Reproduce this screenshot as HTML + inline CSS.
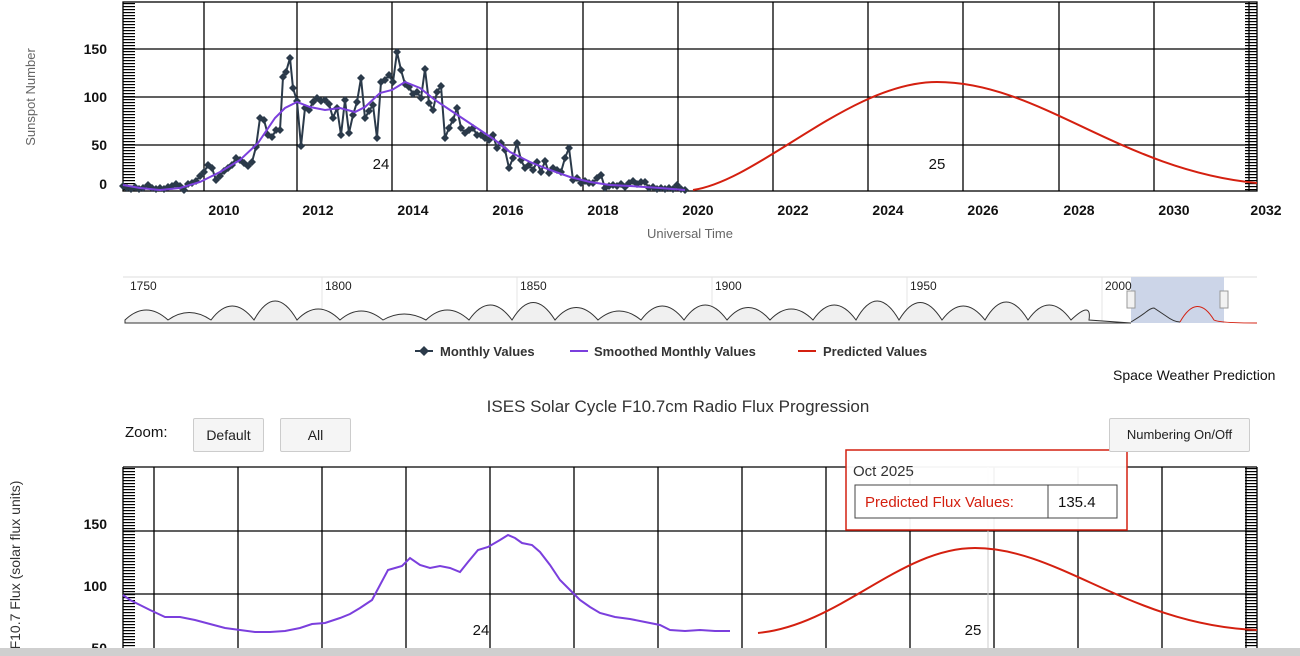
<!DOCTYPE html>
<html><head><meta charset="utf-8"><style>
body{margin:0;width:1300px;height:656px;overflow:hidden;background:#fff;font-family:"Liberation Sans",sans-serif;position:relative}
.btn{position:absolute;background:#f5f5f5;border:1px solid #ccc;border-radius:2px;font-size:14px;color:#222;text-align:center;line-height:32px}
</style></head><body>
<svg width="1300" height="656" style="position:absolute;left:0;top:0" font-family="Liberation Sans, sans-serif">
<defs>
<pattern id="mt" width="12" height="3" patternUnits="userSpaceOnUse"><rect width="12" height="1.2" fill="#000"/></pattern>
<marker id="dm" markerWidth="8" markerHeight="8" refX="4" refY="4" markerUnits="userSpaceOnUse"><path d="M4,0L8,4L4,8L0,4Z" fill="#2b3a4a"/></marker>
</defs>
<rect x="123" y="2" width="12" height="189" fill="url(#mt)"/>
<rect x="1245" y="2" width="12" height="189" fill="url(#mt)"/>
<g stroke="#000" stroke-width="1.3" fill="none">
<rect x="123" y="2" width="1134" height="189"/>
<line x1="123" y1="49" x2="1257" y2="49"/><line x1="123" y1="97" x2="1257" y2="97"/><line x1="123" y1="145" x2="1257" y2="145"/>
<line x1="204" y1="2" x2="204" y2="191"/><line x1="297" y1="2" x2="297" y2="191"/><line x1="392" y1="2" x2="392" y2="191"/><line x1="487" y1="2" x2="487" y2="191"/><line x1="583" y1="2" x2="583" y2="191"/><line x1="678" y1="2" x2="678" y2="191"/><line x1="773" y1="2" x2="773" y2="191"/><line x1="868" y1="2" x2="868" y2="191"/><line x1="963" y1="2" x2="963" y2="191"/><line x1="1059" y1="2" x2="1059" y2="191"/><line x1="1154" y1="2" x2="1154" y2="191"/><line x1="1249" y1="2" x2="1249" y2="191"/>
</g>
<g font-size="14" font-weight="bold" text-anchor="end" fill="#111">
<text x="107" y="54">150</text><text x="107" y="102">100</text><text x="107" y="150">50</text><text x="107" y="189">0</text></g>
<g font-size="14" font-weight="bold" text-anchor="middle" fill="#111">
<text x="224" y="215">2010</text><text x="318" y="215">2012</text><text x="413" y="215">2014</text><text x="508" y="215">2016</text><text x="603" y="215">2018</text><text x="698" y="215">2020</text><text x="793" y="215">2022</text><text x="888" y="215">2024</text><text x="983" y="215">2026</text><text x="1079" y="215">2028</text><text x="1174" y="215">2030</text><text x="1266" y="215">2032</text></g>
<text x="690" y="238" font-size="13" fill="#666" text-anchor="middle">Universal Time</text>
<text transform="translate(35,97) rotate(-90)" font-size="13" fill="#666" text-anchor="middle">Sunspot Number</text>
<text x="381" y="169" font-size="15" text-anchor="middle" fill="#111">24</text>
<text x="937" y="169" font-size="15" text-anchor="middle" fill="#111">25</text>
<polyline fill="none" stroke="#2b3a4a" stroke-width="2" marker-start="url(#dm)" marker-mid="url(#dm)" marker-end="url(#dm)" points="123,186 127,188 131,189 135,187 139,189 143,188 148,185 152,188 156,189 160,188 164,189 168,187 172,186 176,184 180,186 184,190 188,184 192,183 196,181 200,176 204,172 208,165 212,168 216,180 220,176 224,171 228,168 232,165 236,158 240,160 244,163 248,166 252,162 256,147 260,118 264,120 268,135 272,137 276,130 280,130 283,77 286,72 290,58 293,88 297,101 301,146 305,108 309,110 313,102 317,98 321,101 325,100 329,104 333,118 337,108 341,135 345,100 349,133 353,115 357,102 361,78 365,118 369,111 373,105 377,138 381,82 385,80 389,75 393,82 397,52 401,70 405,84 409,87 413,94 417,92 421,98 425,69 429,103 433,110 437,92 441,86 445,138 449,128 453,120 457,108 461,128 465,133 469,130 473,128 477,135 481,135 485,138 489,140 493,135 497,148 501,143 505,150 509,168 513,158 517,143 521,160 525,168 529,165 533,170 537,162 541,172 545,161 549,173 553,168 557,170 561,172 565,158 569,148 573,180 577,178 581,183 585,181 589,183 593,183 597,178 601,175 605,188 609,186 613,185 617,186 621,184 625,187 629,183 633,181 637,184 641,182 645,182 649,188 653,187 657,189 661,188 665,189 669,188 673,189 677,185 681,189 685,190"/>
<polyline fill="none" stroke="#7b3fdd" stroke-width="2" points="123,185 140,188 160,190 180,188 200,182 220,172 240,160 258,143 275,118 285,108 297,102 310,107 325,110 340,108 355,112 365,107 380,93 392,90 405,82 420,88 435,100 450,110 465,120 480,130 495,140 510,152 530,162 550,170 570,177 590,182 610,185 630,186 660,188 685,190"/>
<path d="M693,190 C760,180 850,82 937,82 C1040,82 1120,170 1257,183" fill="none" stroke="#d42010" stroke-width="2"/>
<rect x="123" y="277" width="1134" height="46" fill="#fff"/>
<line x1="123" y1="277" x2="1257" y2="277" stroke="#ddd"/>
<g stroke="#e4e4e4"><line x1="322" y1="277" x2="322" y2="323"/><line x1="517" y1="277" x2="517" y2="323"/><line x1="712" y1="277" x2="712" y2="323"/><line x1="907" y1="277" x2="907" y2="323"/><line x1="1102" y1="277" x2="1102" y2="323"/></g>
<path d="M125,320 q21,-20 43,0 q21,-15 43,0 q21,-28 43,0 q21,-38 43,0 q21,-22 43,0 q21,-18 43,0 q21,-12 43,0 q21,-20 43,0 q21,-30 43,0 q21,-35 43,0 q21,-25 43,0 q21,-18 43,0 q21,-28 43,0 q21,-30 43,0 q21,-25 43,0 q21,-22 43,0 q21,-30 43,0 q21,-38 43,0 q21,-35 43,0 q21,-28 43,0 q21,-36 43,0 q21,-30 43,0 q21,-20 18,0 L1131,323 L125,323Z" fill="#f0f0f0" stroke="#333" stroke-width="1"/>
<rect x="1131" y="277" width="93" height="46" fill="#ccd5e8"/>
<path d="M1131,322 q10,-6 15,-10 q5,-4 8,-4 q6,4 12,8 q8,6 14,6" fill="none" stroke="#333"/>
<path d="M1180,322 q17,-30 34,-2 q5,3 43,3" fill="none" stroke="#d42010"/>
<g font-size="12" fill="#222"><text x="130" y="290">1750</text><text x="325" y="290">1800</text><text x="520" y="290">1850</text><text x="715" y="290">1900</text><text x="910" y="290">1950</text><text x="1105" y="290">2000</text></g>
<rect x="1127" y="291" width="8" height="17" fill="#f2f2f2" stroke="#999"/><rect x="1220" y="291" width="8" height="17" fill="#f2f2f2" stroke="#999"/>
<line x1="415" y1="351" x2="433" y2="351" stroke="#2b3a4a" stroke-width="2"/><path d="M424,346L429,351L424,356L419,351Z" fill="#2b3a4a"/>
<line x1="570" y1="351" x2="588" y2="351" stroke="#7b3fdd" stroke-width="2"/>
<line x1="798" y1="351" x2="816" y2="351" stroke="#d42010" stroke-width="2"/>
<g font-size="13" font-weight="bold" fill="#333"><text x="440" y="356">Monthly Values</text><text x="594" y="356">Smoothed Monthly Values</text><text x="823" y="356">Predicted Values</text></g>
<text x="1113" y="380" font-size="14" fill="#111">Space Weather Prediction</text>
<text x="678" y="412" font-size="17" fill="#333" text-anchor="middle">ISES Solar Cycle F10.7cm Radio Flux Progression</text>
<text x="125" y="437" font-size="15" fill="#111">Zoom:</text>
<rect x="123" y="468" width="12" height="188" fill="url(#mt)"/>
<rect x="1245" y="468" width="12" height="188" fill="url(#mt)"/>
<g stroke="#000" stroke-width="1.3" fill="none">
<line x1="123" y1="467" x2="1257" y2="467"/><line x1="123" y1="467" x2="123" y2="656"/><line x1="1257" y1="467" x2="1257" y2="656"/>
<line x1="123" y1="531" x2="1257" y2="531"/><line x1="123" y1="594" x2="1257" y2="594"/>
<line x1="154" y1="467" x2="154" y2="656"/><line x1="238" y1="467" x2="238" y2="656"/><line x1="322" y1="467" x2="322" y2="656"/><line x1="406" y1="467" x2="406" y2="656"/><line x1="490" y1="467" x2="490" y2="656"/><line x1="574" y1="467" x2="574" y2="656"/><line x1="658" y1="467" x2="658" y2="656"/><line x1="742" y1="467" x2="742" y2="656"/><line x1="826" y1="467" x2="826" y2="656"/><line x1="910" y1="467" x2="910" y2="656"/><line x1="994" y1="467" x2="994" y2="656"/><line x1="1078" y1="467" x2="1078" y2="656"/><line x1="1162" y1="467" x2="1162" y2="656"/><line x1="1246" y1="467" x2="1246" y2="656"/>
</g>
<line x1="988" y1="467" x2="988" y2="656" stroke="#ccc" stroke-width="1"/>
<g font-size="14" font-weight="bold" text-anchor="end" fill="#111"><text x="107" y="529">150</text><text x="107" y="591">100</text><text x="107" y="653">50</text></g>
<text transform="translate(20,565) rotate(-90)" font-size="14" fill="#333" text-anchor="middle">F10.7 Flux (solar flux units)</text>
<polyline fill="none" stroke="#7b3fdd" stroke-width="2" points="123,595 130,600 140,605 150,610 165,617 180,617 195,620 210,624 225,628 240,630 255,632 270,632 285,631 300,628 312,624 325,623 340,618 350,614 360,608 372,600 380,585 388,570 395,568 402,566 410,558 420,565 430,568 440,566 450,568 460,572 468,562 478,550 488,547 500,540 508,535 515,538 522,543 532,545 540,552 550,565 560,580 570,590 580,600 590,607 600,613 615,617 630,619 645,622 660,625 670,630 685,631 700,630 715,631 730,631"/>
<path d="M758,633 C840,625 900,548 975,548 C1060,548 1130,625 1257,630" fill="none" stroke="#d42010" stroke-width="2"/>
<text x="481" y="635" font-size="15" text-anchor="middle" fill="#111">24</text>
<text x="973" y="635" font-size="15" text-anchor="middle" fill="#111">25</text>
<rect x="846" y="450" width="281" height="80" fill="#fff" fill-opacity="0.95" stroke="#d42010" stroke-width="1.5"/>
<text x="853" y="476" font-size="15" fill="#333">Oct 2025</text>
<rect x="855" y="485" width="262" height="33" fill="#fff" stroke="#444"/>
<line x1="1048" y1="485" x2="1048" y2="518" stroke="#444"/>
<text x="865" y="507" font-size="15" fill="#d42010">Predicted Flux Values:</text>
<text x="1058" y="507" font-size="15" fill="#111">135.4</text>
<rect x="0" y="648" width="1300" height="8" fill="#cfcfcf"/>
</svg>
<div class="btn" style="left:193px;top:418px;width:69px;height:32px">Default</div>
<div class="btn" style="left:280px;top:418px;width:69px;height:32px">All</div>
<div class="btn" style="left:1109px;top:418px;width:139px;height:32px;font-size:13px">Numbering On/Off</div>
</body></html>
